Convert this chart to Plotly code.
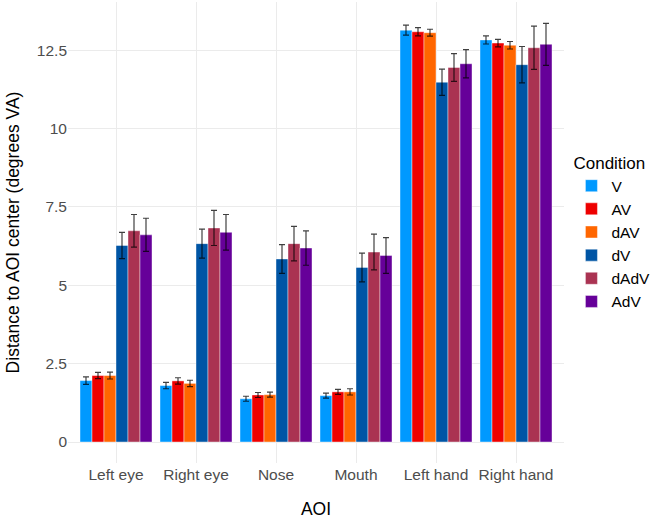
import plotly.graph_objects as go

aoi = ["Left eye", "Right eye", "Nose", "Mouth", "Left hand", "Right hand"]
conditions = ["V", "AV", "dAV", "dV", "dAdV", "AdV"]
colors = ["#0099FF", "#EE0000", "#FF6600", "#0055A5", "#AA3352", "#660099"]

v_mean = [1.96, 1.80, 1.38, 1.48, 13.14, 12.83]
v_err = [0.12, 0.10, 0.08, 0.08, 0.16, 0.13]
av_mean = [2.12, 1.95, 1.50, 1.60, 13.09, 12.73]
av_err = [0.10, 0.10, 0.08, 0.08, 0.13, 0.12]
dav_mean = [2.12, 1.87, 1.51, 1.60, 13.06, 12.66]
dav_err = [0.11, 0.10, 0.08, 0.10, 0.11, 0.12]
dv_mean = [6.27, 6.33, 5.84, 5.57, 11.48, 12.04]
dv_err = [0.42, 0.46, 0.46, 0.46, 0.42, 0.58]
dadv_mean = [6.74, 6.83, 6.33, 6.06, 11.95, 12.58]
dadv_err = [0.52, 0.56, 0.55, 0.57, 0.44, 0.69]
adv_mean = [6.61, 6.69, 6.19, 5.95, 12.07, 12.69]
adv_err = [0.53, 0.57, 0.55, 0.57, 0.45, 0.67]

means = [v_mean, av_mean, dav_mean, dv_mean, dadv_mean, adv_mean]
errs = [v_err, av_err, dav_err, dv_err, dadv_err, adv_err]

fig = go.Figure()
for name, col, m, e in zip(conditions, colors, means, errs):
    fig.add_trace(go.Bar(
        x=aoi, y=m, name=name,
        marker=dict(color=col, line=dict(color="rgba(255,255,255,0.7)", width=0.6)),
        error_y=dict(type="data", array=e, visible=True, color="rgba(0,0,0,0.75)",
                     thickness=1.2, width=3),
    ))

fig.update_layout(
    width=658, height=519,
    margin=dict(l=68, r=94, t=2, b=56),
    barmode="group", bargap=0.1, bargroupgap=0,
    plot_bgcolor="white", paper_bgcolor="white",
    font=dict(family="Liberation Sans, Arial, sans-serif", size=15, color="#000000"),
    legend=dict(
        title=dict(text="Condition", font=dict(size=17, color="#000000")),
        font=dict(size=15.5, color="#000000"),
        x=1.015, xanchor="left", y=0.5, yanchor="middle",
        tracegroupgap=0, itemwidth=30,
    ),
    xaxis=dict(
        title=dict(text="AOI", font=dict(size=17.5, color="#000000"), standoff=22),
        tickfont=dict(size=15.5, color="#4D4D4D"),
        range=[-0.6, 5.6],
        showgrid=True, gridcolor="#EBEBEB", gridwidth=1,
        ticks="", zeroline=False, showline=False,
    ),
    yaxis=dict(
        title=dict(text="Distance to AOI center (degrees VA)", font=dict(size=17.5, color="#000000"), standoff=12),
        tickfont=dict(size=15.5, color="#4D4D4D"),
        range=[-0.67, 14.04],
        tickvals=[0, 2.5, 5, 7.5, 10, 12.5],
        ticktext=["0", "2.5", "5", "7.5", "10", "12.5"],
        showgrid=True, gridcolor="#EBEBEB", gridwidth=1,
        zeroline=False, showline=False, ticks="",
    ),
)

fig.write_html("out.html")
